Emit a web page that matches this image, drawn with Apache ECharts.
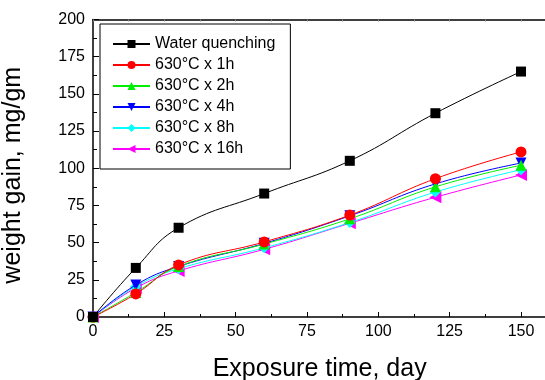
<!DOCTYPE html>
<html>
<head>
<meta charset="utf-8">
<script src="https://cdn.jsdelivr.net/npm/echarts@6/dist/echarts.min.js"></script>
<style>html,body{margin:0;padding:0;background:#fff}#c{width:545px;height:380px}</style>
</head>
<body>
<div id="c"></div>
<script>
const days = [0, 15, 30, 60, 90, 120, 150];
const waterQuenching = [0, 33, 60, 83, 105, 137, 165];
const h1 = [0, 15.5, 35, 50.5, 68.5, 93, 111];
const h2 = [0, 16.5, 34, 49, 66, 87.5, 102];
const h4 = [0, 21.5, 34, 49.5, 68, 89.5, 103.5];
const h8 = [0, 20.5, 32.5, 46.5, 63.5, 84, 99];
const h16 = [0, 19.5, 31, 45.5, 63, 80.5, 95.5];
const seriesNames = ['Water quenching', '630°C x 1h', '630°C x 2h', '630°C x 4h', '630°C x 8h', '630°C x 16h'];
const xTicks = [0, 25, 50, 75, 100, 125, 150];
const yTicks = [0, 25, 50, 75, 100, 125, 150, 175, 200];

const FONT = 'Liberation Sans, Arial, sans-serif';
const allValues = [waterQuenching, h1, h2, h4, h8, h16];
const colors = ['#000000', '#ff0000', '#00ee00', '#0000ff', '#00ffff', '#ff00ff'];
const symbols = ['rect', 'circle', 'triangle', 'triangle', 'diamond', 'triangle'];
const rotations = [0, 0, 0, 180, 0, 90];
const sizes = [10, 11, 11, 11, 11, 12];

const chart = echarts.init(document.getElementById('c'), null, {renderer: 'canvas'});
const series = allValues.map((vals, i) => ({
  name: seriesNames[i],
  type: 'line',
  data: days.map((d, k) => [d, vals[k]]),
  smooth: 0.45,
  symbol: symbols[i],
  symbolRotate: rotations[i],
  symbolSize: sizes[i],
  showAllSymbol: true,
  clip: false,
  itemStyle: {color: colors[i]},
  lineStyle: {color: colors[i], width: 1},
  z: 10 - i
}));

chart.setOption({
  animation: false,
  backgroundColor: '#fff',
  grid: {left: 93, top: 19.5, width: 175 * (428 / 150), height: 297.5, outerBoundsMode: 'none', containLabel: false},
  legend: {
    orient: 'vertical',
    left: 100, top: 24,
    padding: [12, 15, 12, 12],
    itemWidth: 37, itemHeight: 10, itemGap: 5,
    borderColor: '#000', borderWidth: 1,
    backgroundColor: '#fff',
    textStyle: {fontFamily: FONT, fontSize: 16, color: '#000'},
    data: seriesNames
  },
  xAxis: [{
    type: 'value', min: 0, max: 175, interval: 25,
    name: 'Exposure time, day', nameLocation: 'middle', nameGap: 40,
    nameTextStyle: {fontFamily: FONT, fontSize: 25, color: '#000', padding: [0, 46, 0, 0]},
    axisLine: {show: true, onZero: false, lineStyle: {color: '#000', width: 1.5}},
    axisTick: {show: true, inside: true, length: 5, lineStyle: {color: '#000', width: 1}},
    minorTick: {show: true, splitNumber: 2, length: 3, lineStyle: {color: '#000', width: 1}},
    axisLabel: {fontFamily: FONT, fontSize: 16, color: '#000', margin: 7,
      formatter: v => xTicks.includes(v) ? String(v) : ''},
    splitLine: {show: false}
  }, {
    type: 'value', position: 'top', min: 0, max: 175, interval: 25,
    axisLine: {show: true, onZero: false, lineStyle: {color: '#000', width: 1.5}},
    axisTick: {show: true, inside: true, length: 2, lineStyle: {color: '#888', width: 1}},
    minorTick: {show: true, splitNumber: 2, length: 2, lineStyle: {color: '#888', width: 1}},
    axisLabel: {show: false},
    splitLine: {show: false}
  }],
  yAxis: {
    type: 'value', min: 0, max: 200, interval: 25,
    name: 'weight gain, mg/gm', nameLocation: 'middle', nameGap: 67, nameRotate: 90,
    nameTextStyle: {fontFamily: FONT, fontSize: 25, color: '#000', padding: [0, 14, 0, 0]},
    axisLine: {show: true, onZero: false, lineStyle: {color: '#000', width: 1.5}},
    axisTick: {show: true, inside: true, length: 6, lineStyle: {color: '#000', width: 1}},
    minorTick: {show: true, splitNumber: 2, length: 4, lineStyle: {color: '#000', width: 1}},
    axisLabel: {fontFamily: FONT, fontSize: 16, color: '#000', margin: 8,
      formatter: v => yTicks.includes(v) ? String(v) : ''},
    splitLine: {show: false}
  },
  series: series
});
</script>
</body>
</html>
